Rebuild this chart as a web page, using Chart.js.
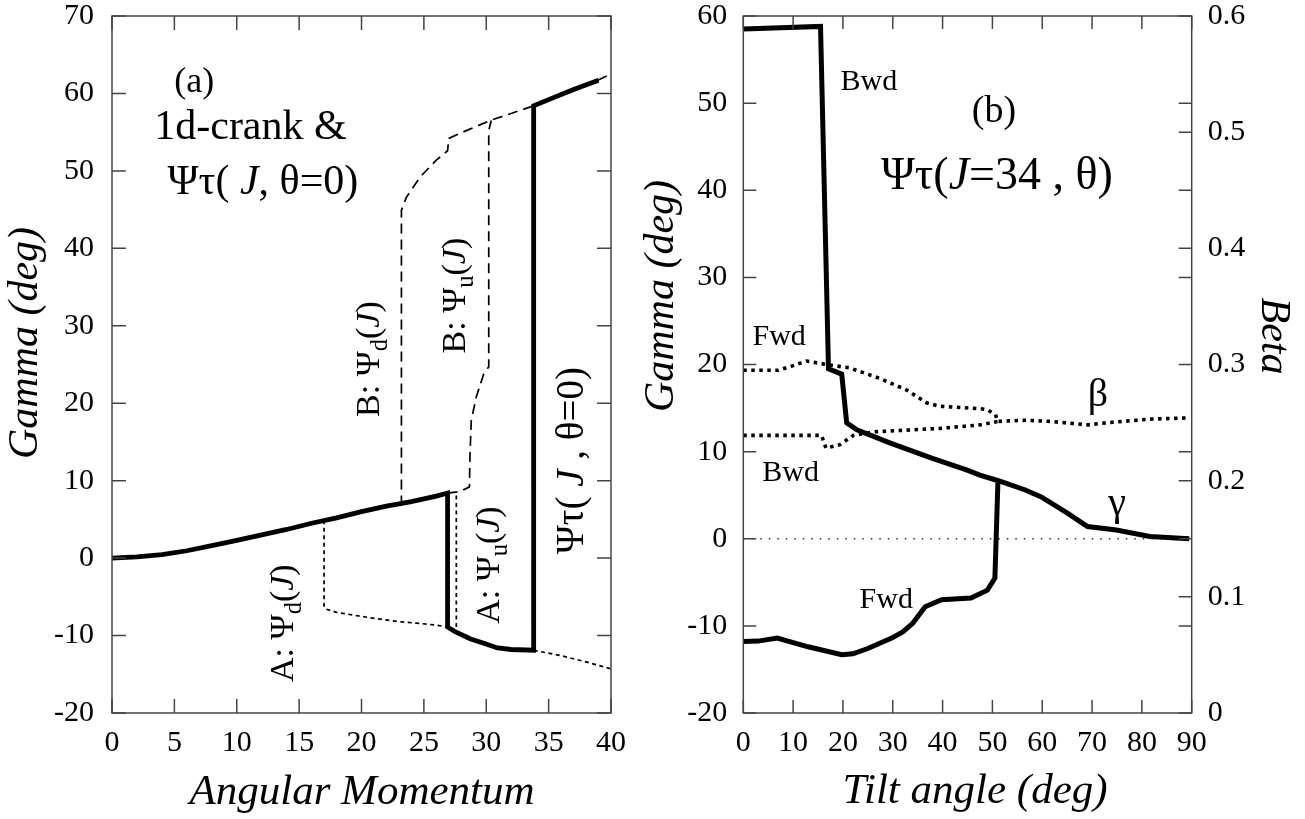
<!DOCTYPE html>
<html>
<head>
<meta charset="utf-8">
<script src="https://cdn.jsdelivr.net/npm/chart.js@4.4.1/dist/chart.umd.min.js"></script>
<style>
  body { margin: 0; background: #fff; }
  #wrap { position: relative; width: 1305px; height: 819px; }
  canvas { position: absolute; top: 0; }
</style>
</head>
<body>
<div id="wrap">
  <canvas id="chartA" width="650" height="819" style="left:0"></canvas>
  <canvas id="chartB" width="675" height="819" style="left:630px"></canvas>
</div>
<script>
// ---- panel (a): gamma vs angular momentum ----
const tauJ     = [0, 2, 4, 6, 8, 10, 12, 14, 16, 18, 20, 22, 24, 26, 26.9, 26.9, 27.5, 28.7, 29.8, 30.9, 32, 33.8, 33.8, 35, 37, 39];
const tauGamma = [0, 0.15, 0.45, 0.95, 1.6, 2.3, 3.0, 3.7, 4.5, 5.2, 6.0, 6.7, 7.3, 8.0, 8.4, -8.9, -9.5, -10.4, -11.0, -11.6, -11.8, -11.9, 58.4, 59.2, 60.5, 61.7];

const bdJ     = [23.2, 23.2, 23.6, 24.7, 26.0, 26.9, 27.0, 28.4, 30.3, 33.8, 36, 38, 40];
const bdGamma = [6.8, 44.9, 46.6, 49.2, 51.4, 52.6, 54.2, 55.2, 56.5, 58.4, 59.7, 61.0, 62.5];

const buJ     = [26.9, 27.9, 28.65, 28.7, 28.8, 29.2, 29.8, 30.2, 30.2, 30.4];
const buGamma = [8.4, 8.6, 9.2, 13.5, 17.8, 20.8, 23.8, 24.7, 55.2, 56.5];

const adJ     = [17.0, 17.0, 17.2, 18.0, 19.5, 21.1, 23.0, 24.4, 26.0, 26.9];
const adGamma = [4.9, -6.3, -6.6, -7.0, -7.4, -7.8, -8.2, -8.4, -8.65, -8.9];

const auJ     = [27.6, 27.6];
const auGamma = [8.1, -8.9];

const tailJ     = [33.8, 36, 38, 40];
const tailGamma = [-11.9, -12.6, -13.4, -14.3];

const aXTicks = [0, 5, 10, 15, 20, 25, 30, 35, 40];
const aYTicks = [-20, -10, 0, 10, 20, 30, 40, 50, 60, 70];

// ---- panel (b): gamma and beta vs tilt angle ----
const bwdTheta = [0, 15.5, 17.1, 19.75, 20.75, 22.8, 29.4, 38.1, 44.8, 47.5, 51.5, 56.6, 59.8, 64.9, 69.1, 74.9, 81.6, 89.5];
const bwdGamma = [58.5, 58.8, 19.5, 18.9, 13.3, 12.5, 11.0, 9.2, 7.9, 7.3, 6.6, 5.6, 4.8, 3.0, 1.4, 1.0, 0.25, 0];

const fwdTheta = [0, 3, 6.8, 13, 19.75, 22, 25, 29.8, 32, 34, 36.5, 39.8, 45.7, 49, 50.5, 51.1];
const fwdGamma = [-11.8, -11.75, -11.4, -12.4, -13.3, -13.2, -12.6, -11.4, -10.7, -9.7, -7.8, -7.0, -6.8, -5.9, -4.5, 6.4];

const betaFwdTheta = [0, 7.0, 10, 12.7, 16.7, 21.4, 27.4, 32.8, 36.8, 39.5, 47.5, 49, 50.6, 51.1, 56.6, 61.6, 69.1, 73.3, 81.6, 89.5];
const betaFwd      = [0.295, 0.295, 0.299, 0.303, 0.300, 0.297, 0.288, 0.278, 0.267, 0.264, 0.262, 0.261, 0.257, 0.251, 0.252, 0.251, 0.248, 0.250, 0.253, 0.254];

const betaBwdTheta = [0, 15.7, 16.6, 19.4, 22.1, 26.1, 39.5, 47.5, 51.1];
const betaBwd      = [0.239, 0.239, 0.228, 0.231, 0.239, 0.242, 0.245, 0.248, 0.251];

const zeroTheta = [0, 90];
const zeroGamma = [0, 0];

const bXTicks = [0, 10, 20, 30, 40, 50, 60, 70, 80, 90];
const bYTicks = [-20, -10, 0, 10, 20, 30, 40, 50, 60];
const betaTickValues = [0, 0.1, 0.2, 0.3, 0.4, 0.5, 0.6];
const betaTickLabels = ['0', '0.1', '0.2', '0.3', '0.4', '0.5', '0.6'];

const SERIF = '"Liberation Serif", "DejaVu Serif", serif';

function pts(xs, ys) {
  return xs.map((x, i) => ({ x: x, y: ys[i] }));
}

// text with _italic_ and ~subscript~ pieces
function drawRich(ctx, str, x, y, size, rot, italicAll) {
  const parts = str.split(/(_[^_]+_|~[^~]+~)/).filter(s => s.length);
  const items = parts.map(s => {
    if (s[0] === '_') return { t: s.slice(1, -1), it: true, sub: false };
    if (s[0] === '~') return { t: s.slice(1, -1), it: !!italicAll, sub: true };
    return { t: s, it: !!italicAll, sub: false };
  });
  const fontOf = p => (p.it ? 'italic ' : '') + (p.sub ? size * 0.72 : size) + 'px ' + SERIF;
  ctx.save();
  ctx.translate(x, y);
  if (rot) ctx.rotate(rot);
  let w = 0;
  items.forEach(p => { ctx.font = fontOf(p); p.w = ctx.measureText(p.t).width; w += p.w; });
  ctx.textAlign = 'left';
  ctx.textBaseline = 'middle';
  ctx.fillStyle = '#000';
  let cx = -w / 2;
  items.forEach(p => {
    ctx.font = fontOf(p);
    ctx.fillText(p.t, cx, p.sub ? size * 0.3 : 0);
    cx += p.w;
  });
  ctx.restore();
}

const framePlugin = {
  id: 'frame',
  afterDatasetsDraw(chart, args, opts) {
    const { ctx, chartArea: a, scales } = chart;
    const len = opts.tickLen;
    ctx.save();
    ctx.strokeStyle = '#444';
    ctx.lineWidth = 1.5;
    ctx.strokeRect(a.left, a.top, a.right - a.left, a.bottom - a.top);
    ctx.beginPath();
    scales.x.ticks.forEach(t => {
      const p = scales.x.getPixelForValue(t.value);
      ctx.moveTo(p, a.bottom); ctx.lineTo(p, a.bottom - len);
      ctx.moveTo(p, a.top); ctx.lineTo(p, a.top + len);
    });
    scales.y.ticks.forEach(t => {
      const p = scales.y.getPixelForValue(t.value);
      ctx.moveTo(a.left, p); ctx.lineTo(a.left + len, p);
      ctx.moveTo(a.right, p); ctx.lineTo(a.right - len, p);
    });
    if (scales.y1) {
      scales.y1.ticks.forEach(t => {
        const p = scales.y1.getPixelForValue(t.value);
        ctx.moveTo(a.right, p); ctx.lineTo(a.right - len, p);
      });
    }
    ctx.stroke();

    // tick labels, placed from each scale's own ticks
    ctx.fillStyle = '#000';
    ctx.font = opts.tickSize + 'px ' + SERIF;
    ctx.textBaseline = 'middle';
    ctx.textAlign = 'center';
    scales.x.ticks.forEach(t => {
      ctx.fillText(String(t.value), scales.x.getPixelForValue(t.value), a.bottom + opts.xLabelGap);
    });
    ctx.textAlign = 'right';
    scales.y.ticks.forEach(t => {
      ctx.fillText(String(t.value), a.left - opts.yLabelGap, scales.y.getPixelForValue(t.value));
    });
    if (scales.y1) {
      ctx.textAlign = 'left';
      scales.y1.ticks.forEach((t, i) => {
        ctx.fillText(betaTickLabels[i], a.right + opts.y1LabelGap, scales.y1.getPixelForValue(t.value));
      });
    }
    ctx.restore();
  },
  afterDraw(chart, args, opts) {
    const { ctx, scales } = chart;
    (opts.notes || []).forEach(n => {
      const ys = scales[n.axis || 'y'];
      drawRich(ctx, n.text, scales.x.getPixelForValue(n.x), ys.getPixelForValue(n.y), n.size, n.rot || 0, false);
    });
    (opts.titles || []).forEach(t => {
      drawRich(ctx, t.text, t.px, t.py, t.size, t.rot || 0, true);
    });
  }
};

function fixedTicks(values) {
  return scale => { scale.ticks = values.map(v => ({ value: v })); };
}

// fixed box sizes so the plot area sits where the figure has it
function fitX(h) {
  return s => { s.height = h; s.paddingLeft = 0; s.paddingRight = 0; };
}
function fitY(w) {
  return s => { s.width = w; s.paddingTop = 0; s.paddingBottom = 0; };
}

function axis(min, max, ticks, fit, extra) {
  return Object.assign({
    type: 'linear', min: min, max: max,
    afterBuildTicks: fixedTicks(ticks),
    afterFit: fit,
    grid: { display: false, drawTicks: false },
    border: { display: false },
    ticks: { display: false }
  }, extra || {});
}

function line(data, width, dash, extra) {
  return Object.assign({
    data: data, borderColor: '#000', borderWidth: width, borderDash: dash,
    pointRadius: 0, tension: 0, fill: false, borderJoinStyle: 'miter'
  }, extra || {});
}

const HALF = Math.PI / 2;

new Chart(document.getElementById('chartA'), {
  type: 'line',
  data: {
    datasets: [
      line(pts(tauJ, tauGamma), 4.8, []),
      line(pts(bdJ, bdGamma), 1.7, [10, 6]),
      line(pts(buJ, buGamma), 1.7, [10, 6]),
      line(pts(adJ, adGamma), 1.7, [4, 3.5]),
      line(pts(auJ, auGamma), 1.7, [4, 3.5]),
      line(pts(tailJ, tailGamma), 1.7, [4, 3.5])
    ]
  },
  options: {
    responsive: false,
    animation: false,
    layout: { padding: { left: 0, right: 39, top: 16, bottom: 0 } },
    scales: {
      x: axis(0, 40, aXTicks, fitX(106)),
      y: axis(-20, 70, aYTicks, fitY(112))
    },
    plugins: {
      legend: { display: false },
      tooltip: { enabled: false },
      frame: {
        tickLen: 14, tickSize: 30, xLabelGap: 30, yLabelGap: 18,
        notes: [
          { text: '(a)', x: 6.6, y: 61.4, size: 36 },
          { text: '1d-crank &', x: 11.1, y: 55.6, size: 42 },
          { text: 'Ψτ( _J_, θ=0)', x: 12.1, y: 48.5, size: 42 },
          { text: 'B: Ψ~d~(_J_)', x: 20.7, y: 25.7, size: 34, rot: -HALF },
          { text: 'B: Ψ~u~(_J_)', x: 27.6, y: 33.9, size: 34, rot: -HALF },
          { text: 'A: Ψ~d~(_J_)', x: 13.8, y: -8.4, size: 34, rot: -HALF },
          { text: 'A: Ψ~u~(_J_)', x: 30.3, y: -0.9, size: 34, rot: -HALF },
          { text: 'Ψτ( _J_ , θ=0)', x: 36.9, y: 12.6, size: 39, rot: -HALF }
        ],
        titles: [
          { text: 'Gamma (deg)', px: 26, py: 343, size: 42, rot: -HALF },
          { text: 'Angular Momentum', px: 362, py: 793, size: 43 }
        ]
      }
    }
  },
  plugins: [framePlugin]
});

new Chart(document.getElementById('chartB'), {
  type: 'line',
  data: {
    datasets: [
      line(pts(bwdTheta, bwdGamma), 5, []),
      line(pts(fwdTheta, fwdGamma), 5, []),
      line(pts(betaFwdTheta, betaFwd), 3.6, [3.5, 4.5], { yAxisID: 'y1' }),
      line(pts(betaBwdTheta, betaBwd), 3.6, [3.5, 4.5], { yAxisID: 'y1' }),
      line(pts(zeroTheta, zeroGamma), 1.4, [1.5, 7], { borderColor: '#333' })
    ]
  },
  options: {
    responsive: false,
    animation: false,
    layout: { padding: { left: 0, right: 0, top: 16, bottom: 0 } },
    scales: {
      x: axis(0, 90, bXTicks, fitX(106)),
      y: axis(-20, 60, bYTicks, fitY(113.3), { position: 'left' }),
      y1: axis(0, 0.6, betaTickValues, fitY(113.3), { position: 'right' })
    },
    plugins: {
      legend: { display: false },
      tooltip: { enabled: false },
      frame: {
        tickLen: 13, tickSize: 30, xLabelGap: 30, yLabelGap: 16, y1LabelGap: 16,
        notes: [
          { text: 'Bwd', x: 25.2, y: 52.4, size: 30 },
          { text: '(b)', x: 50.3, y: 49.0, size: 38 },
          { text: 'Ψτ(_J_=34 , θ)', x: 50.9, y: 41.5, size: 46 },
          { text: 'Fwd', x: 7.2, y: 23.1, size: 30 },
          { text: 'β', x: 71.2, y: 16.4, size: 40 },
          { text: 'Bwd', x: 9.5, y: 7.55, size: 30 },
          { text: 'γ', x: 75, y: 3.9, size: 40 },
          { text: 'Fwd', x: 28.7, y: -7.1, size: 30 }
        ],
        titles: [
          { text: 'Gamma (deg)', px: 32, py: 296, size: 42, rot: -HALF },
          { text: 'Tilt angle (deg)', px: 345, py: 792, size: 43 },
          { text: 'Beta', px: 643, py: 336, size: 42, rot: HALF }
        ]
      }
    }
  },
  plugins: [framePlugin]
});
</script>
</body>
</html>
